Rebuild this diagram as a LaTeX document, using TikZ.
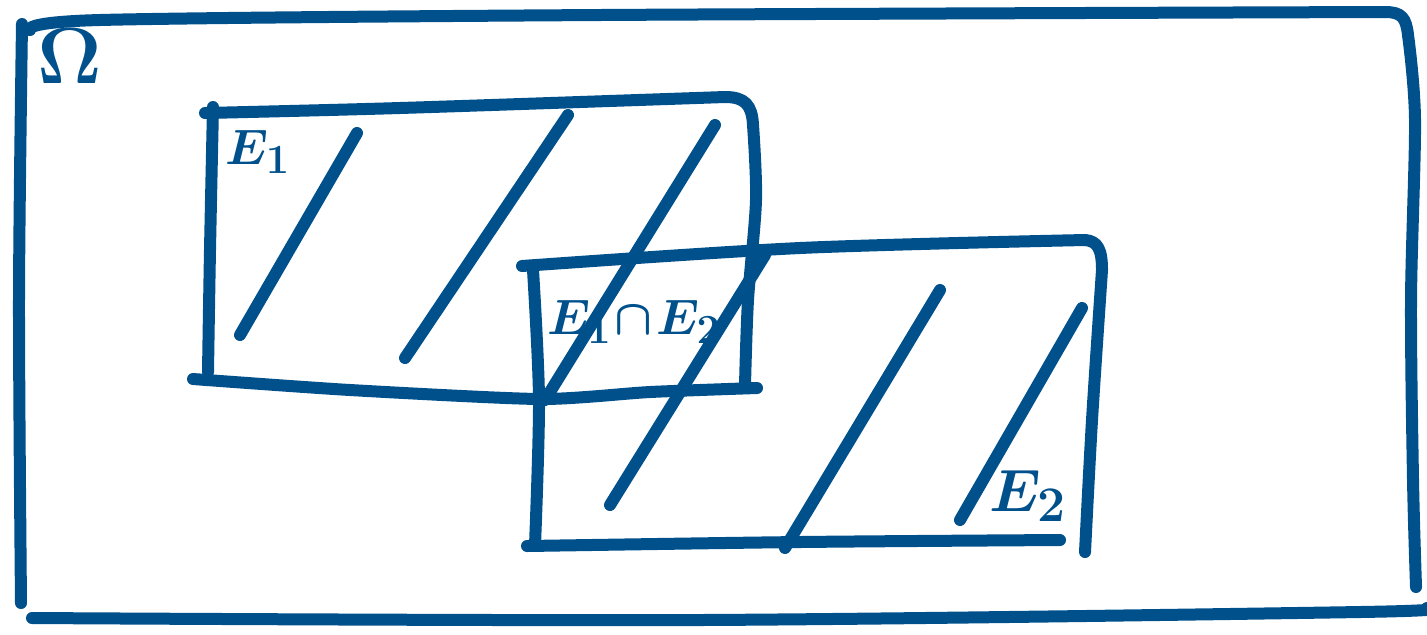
\documentclass[tikz,border=0pt]{standalone}
\usepackage{amsmath}
\definecolor{ink}{RGB}{0,80,140}
\begin{document}
\begin{tikzpicture}[x=0.5pt,y=-0.5pt,
  pen/.style={draw=ink,line width=6pt,line cap=round,line join=round},
  lbl/.style={text=ink,font=\fontsize{32}{36}\selectfont,inner sep=0pt}]
\useasboundingbox (0,0) rectangle (1427,634);
% Omega box
\draw[pen] plot[smooth] coordinates {(22,24) (19,300) (21,603)};
\draw[pen] plot[smooth] coordinates {(30,30) (100,20) (600,15) (1385,12)};
\draw[pen] (1385,12) .. controls (1402,12) and (1406,18) .. (1408,35);
\draw[pen] plot[smooth] coordinates {(1408,35) (1415,120) (1411,300) (1413,480) (1416,587)};
\draw[pen] plot[smooth] coordinates {(32,618) (700,620) (1360,612) (1427,608)};
% E1 box
\draw[pen] plot[smooth] coordinates {(205,113) (400,108) (725,97)};
\draw[pen] (725,97) .. controls (745,97) and (752,105) .. (753,125);
\draw[pen] plot[smooth] coordinates {(753,125) (756,200) (748,300) (745,385)};
\draw[pen] plot[smooth] coordinates {(213,107) (210,250) (208,372)};
\draw[pen] plot[smooth,tension=0.4] coordinates {(193,379) (350,390) (540,399) (650,392) (757,388)};
% E2 box
\draw[pen] plot[smooth] coordinates {(522,266) (800,248) (1085,240)};
\draw[pen] (1085,240) .. controls (1098,241) and (1102,250) .. (1102,270);
\draw[pen] plot[smooth] coordinates {(1102,270) (1092,420) (1085,552)};
\draw[pen] plot[smooth] coordinates {(533,270) (539,400) (535,545)};
\draw[pen] plot[smooth] coordinates {(527,546) (800,542) (1060,540)};
% hatching
\draw[pen] (357,133) -- (240,335);
\draw[pen] (568,115) -- (405,358);
\draw[pen] (715,125) -- (545,400);
\draw[pen] (765,255) -- (610,505);
\draw[pen] (940,290) -- (785,548);
\draw[pen] (1082,308) -- (960,520);
% labels
\node[lbl] (om) at (70,56) {\scalebox{1.6}{$\boldsymbol{\Omega}$}};
\node[lbl] (e1) at (258,152) {$\boldsymbol{E_1}$};
\node[lbl] (e12) at (634,322) {$\boldsymbol{E_1\!\cap\! E_2}$};
\node[lbl] (e2) at (1028,496) {\scalebox{1.2}{$\boldsymbol{E_2}$}};
\end{tikzpicture}
\end{document}
